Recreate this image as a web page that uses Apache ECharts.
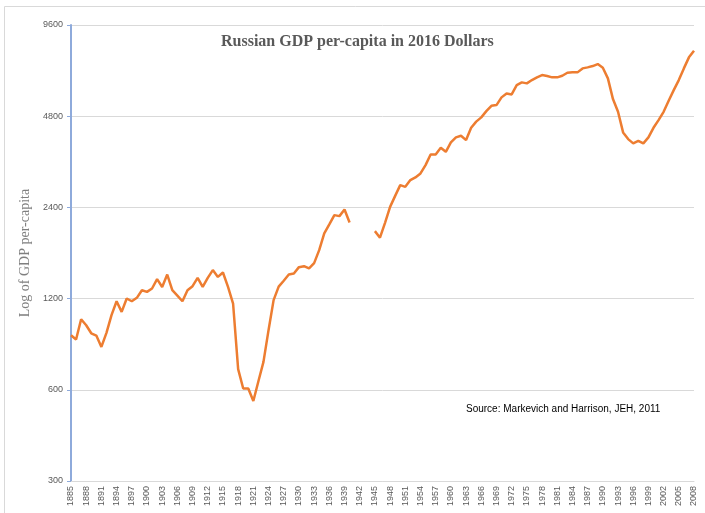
<!DOCTYPE html>
<html>
<head>
<meta charset="utf-8">
<script src="https://cdn.jsdelivr.net/npm/echarts@6/dist/echarts.min.js"></script>
<style>
  html, body { margin: 0; padding: 0; background: #fff; }
  #chart { width: 705px; height: 513px; }
</style>
</head>
<body>
<div id="chart"></div>
<script>
// years 1885..2008
var years = [];
for (var yr = 1885; yr <= 2008; yr++) years.push(String(yr));

// GDP per capita, 2016 dollars, null = no data (war years)
var gdp1885_1940 = [
  908, 879, 1026, 980, 922, 906, 831, 925, 1058, 1176,
  1085, 1201, 1176, 1207, 1279, 1263, 1296, 1391, 1311, 1441,
  1279, 1227, 1176, 1279, 1319, 1405, 1311, 1405, 1490, 1415,
  1463, 1311, 1156, 702, 606, 606, 551, 640, 742, 944,
  1186, 1314, 1375, 1441, 1452, 1524, 1535, 1509, 1571, 1734,
  1969, 2108, 2263, 2246, 2363, 2140
];
var gdp1941_1944 = [null, null, null, null];
var gdp1945_2008 = [
  2004, 1907, 2134, 2410, 2620, 2842, 2806, 2953, 3014, 3107,
  3310, 3590, 3590, 3775, 3661, 3933, 4086, 4136, 4003, 4395,
  4607, 4757, 4990, 5196, 5223, 5538, 5708, 5665, 6080, 6207,
  6160, 6317, 6449, 6561, 6513, 6449, 6449, 6527, 6677, 6698,
  6698, 6903, 6956, 7027, 7134, 6935, 6399, 5467, 4963, 4244,
  4033, 3904, 3981, 3904, 4086, 4395, 4660, 4963, 5397, 5853,
  6317, 6903, 7507, 7894
];
var gdp = gdp1885_1940.concat(gdp1941_1944, gdp1945_2008);

// log2 axis ticks
var yTicks = [300, 600, 1200, 2400, 4800, 9600];
var yBase = yTicks[0];

// plotted as doublings above the lowest tick
var gdpLog = gdp.map(function (v) {
  return v == null ? null : Math.log2(v / yBase);
});

var myChart = echarts.init(document.getElementById('chart'));

var option = {
  animation: false,
  title: {
    text: 'Russian GDP per-capita in 2016 Dollars',
    left: 216,
    top: 29,
    textStyle: {
      fontFamily: 'Liberation Serif',
      fontWeight: 'bold',
      fontSize: 16,
      color: '#595959'
    }
  },
  graphic: [
    {
      type: 'rect',
      shape: { x: 4.5, y: 6.5, width: 720, height: 540 },
      style: { fill: 'none', stroke: '#d9d9d9', lineWidth: 1 },
      silent: true
    },
    {
      type: 'text',
      left: 466,
      top: 404,
      style: {
        text: 'Source: Markevich and Harrison, JEH, 2011',
        font: '10px "Liberation Sans"',
        fill: '#000'
      }
    }
  ],
  grid: { left: 71, right: 11, top: 25, bottom: 32, containLabel: false },
  xAxis: {
    type: 'category',
    data: years,
    boundaryGap: false,
    axisLine: { lineStyle: { color: '#d9d9d9', width: 1 } },
    axisTick: { show: false },
    axisLabel: {
      interval: 2,
      rotate: 90,
      fontSize: 9,
      color: '#595959',
      fontFamily: 'Liberation Sans',
      margin: 5
    },
    splitLine: { show: false }
  },
  yAxis: {
    type: 'value',
    min: 0,
    max: yTicks.length - 1,
    interval: 1,
    name: 'Log of GDP per-capita',
    nameLocation: 'middle',
    nameGap: 39,
    nameTextStyle: {
      fontFamily: 'Liberation Serif',
      fontSize: 14,
      color: '#7f7f7f'
    },
    axisLine: { show: true, lineStyle: { color: '#8eaadb', width: 2 } },
    axisTick: { show: true, length: 4, lineStyle: { color: '#8eaadb' } },
    axisLabel: {
      fontSize: 9,
      color: '#595959',
      fontFamily: 'Liberation Sans',
      margin: 8,
      formatter: function (val) {
        return String(yTicks[Math.round(val)]);
      }
    },
    splitLine: { show: true, lineStyle: { color: '#d9d9d9', width: 1 } }
  },
  series: [
    {
      name: 'GDP per-capita',
      type: 'line',
      data: gdpLog,
      showSymbol: false,
      connectNulls: false,
      lineStyle: { color: '#ed7d31', width: 2.5 },
      itemStyle: { color: '#ed7d31' }
    }
  ]
};

myChart.setOption(option);
</script>
</body>
</html>
